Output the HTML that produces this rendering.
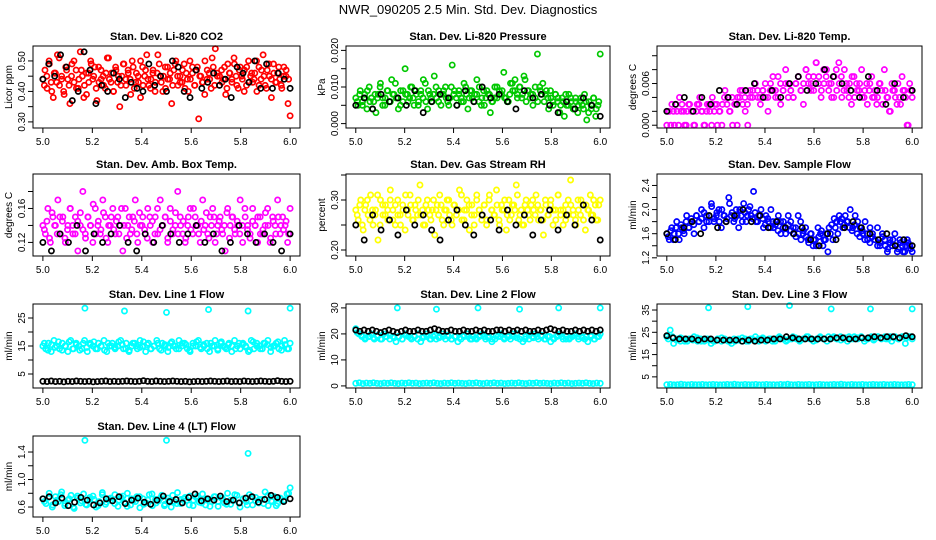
<!DOCTYPE html>
<html><head><meta charset="utf-8"><style>
body{margin:0;background:#fff}
svg{display:block;font-family:"Liberation Sans",sans-serif}
</style></head><body>
<svg id="c" width="936" height="540" viewBox="0 0 936 540">
<text x="468" y="14" text-anchor="middle" font-size="13">NWR_090205  2.5 Min. Std. Dev. Diagnostics</text>
</svg>
<script>
const xTicks=[5.0,5.2,5.4,5.6,5.8,6.0];
const xTickLabels=["5.0","5.2","5.4","5.6","5.8","6.0"];
// Panel 1 CO2
const co2Red=[.44,.47,.41,.50,.43,.38,.46,.52,.42,.45,.40,.48,.44,.36,.49,.43,.47,.41,.53,.45,.42,.39,.46,.50,.44,.48,.37,.43,.47,.45,.41,.51,.44,.46,.40,.48,.43,.35,.45,.49,.42,.47,.44,.50,.41,.46,.43,.38,.48,.45,.52,.42,.44,.47,.40,.46,.49,.43,.45,.41,.48,.44,.36,.47,.50,.42,.45,.43,.49,.46,.40,.44,.48,.42,.47,.31,.45,.43,.50,.44,.46,.41,.48,.54,.45,.42,.47,.44,.39,.49,.46,.43,.51,.45,.41,.48,.44,.47,.42,.50,.45,.43,.46,.40,.48,.44,.52,.42,.47,.45,.38,.49,.43,.46,.44,.41,.48,.45,.36,.32];
const co2Red2=[.42,.45,.49,.40,.46,.43,.51,.44,.39,.47,.42,.45,.50,.41,.44,.47,.38,.46,.43,.49,.45,.41,.48,.44,.42,.46,.51,.43,.40,.47,.45,.42,.49,.44,.46,.39,.48,.43,.45,.50,.42,.47,.44,.41,.46,.43,.52,.45,.40,.48,.44,.46,.42,.49,.45,.43,.47,.41,.44,.50,.46,.42,.48,.45,.43,.39,.47,.44,.51,.42,.46,.45,.43,.48,.41,.46,.44,.49,.42,.47,.45,.40,.48,.43,.46,.44,.50,.42,.47,.45,.41,.49,.44,.46,.43,.48,.42,.45,.47,.44];
const co2Black=[.44,.49,.45,.52,.48,.37,.40,.53,.47,.36,.42,.40,.46,.44,.38,.43,.41,.40,.49,.42,.45,.40,.50,.48,.40,.38,.47,.41,.43,.46,.42,.44,.38,.48,.46,.43,.50,.41,.49,.41,.46,.44,.41];
// Panel 2 Pressure (x1e-3 kPa)
const presGreen=[7,5,9,6,8,4,10,7,6,3,8,11,7,5,9,6,12,8,7,4,9,6,15,8,7,10,5,8,6,9,7,11,4,8,6,13,7,9,5,8,10,6,7,16,9,5,8,7,6,10,4,9,7,8,12,6,5,9,7,8,3,6,10,7,9,8,14,7,6,11,9,12,8,10,7,13,6,9,8,5,7,19,10,8,6,9,4,7,5,8,6,3,7,2,5,8,6,4,7,3,6,5,8,1,6,4,7,2,5,19];
const presGreen2=[6,8,5,7,9,6,4,8,7,10,5,7,9,6,8,11,7,5,9,8,6,10,7,9,5,8,12,6,9,7,8,10,6,8,9,7,5,10,8,7,9,6,11,8,7,9,6,8,10,7,5,9,8,6,7,10,8,9,7,6,8,11,9,7,10,8,12,9,7,8,10,6,9,11,8,7,9,6,8,7,5,6,8,5,7,4,6,5,7,4,6,3,5,7,4,6];
const presBlack=[5,7,4,8,6,7,5,9,3,6,8,7,5,9,6,10,7,8,6,4,9,7,8,5,3,6,4,7,5,2];
// Panel 3 Temp (x1e-3)
const tempMag=[0,2,3,0,2,4,3,0,2,3,2,0,3,4,2,0,3,2,4,3,0,2,3,5,4,2,0,3,4,5,3,2,0,4,5,6,4,3,5,4,2,6,5,4,7,3,5,6,4,5,4,6,7,5,3,8,6,5,7,9,6,4,8,7,5,6,4,8,9,7,5,6,4,3,7,6,5,8,4,6,5,7,4,3,6,5,8,4,2,6,5,3,4,7,5,0,6,4];
const tempMag2=[2,0,2,3,0,2,2,0,3,2,0,2,3,2,0,2,3,0,2,3,2,0,4,3,2,4,3,0,4,5,4,3,5,4,6,5,4,5,6,4,5,7,5,4,6,5,8,6,5,4,6,7,5,6,8,7,6,5,9,7,5,6,8,6,4,7,5,6,4,8,5,6,7,4,5,6,4,5,3,6,4,5,4,6,3,5,4,2,5,4,6,3,5,4,0,5];
const tempBlack=[2,3,4,2,4,3,5,4,3,5,6,4,5,4,6,7,5,6,8,7,6,5,4,7,5,3,6,4,5];
// Panel 4 Amb box temp
const ambMag=[.14,.13,.16,.12,.15,.14,.17,.13,.15,.12,.14,.16,.13,.15,.11,.14,.18,.13,.15,.14,.12,.16,.14,.13,.17,.15,.12,.14,.16,.13,.15,.14,.11,.16,.14,.13,.15,.17,.12,.14,.15,.13,.16,.14,.12,.15,.13,.17,.14,.15,.12,.16,.13,.14,.18,.15,.13,.12,.14,.16,.13,.15,.14,.12,.17,.14,.13,.15,.16,.12,.14,.15,.13,.11,.16,.14,.15,.13,.14,.17,.12,.15,.14,.13,.16,.14,.12,.15,.13,.14,.16,.12,.15,.14,.17,.13,.15,.14,.12,.16];
const ambMag2=[.135,.145,.125,.155,.14,.13,.15,.145,.125,.135,.16,.14,.13,.145,.155,.135,.125,.15,.14,.165,.13,.145,.135,.155,.125,.14,.15,.135,.145,.13,.16,.14,.125,.15,.135,.145,.13,.155,.14,.135,.125,.15,.145,.13,.16,.135,.14,.15,.125,.145,.135,.155,.13,.14,.145,.125,.15,.135,.16,.14,.13,.145,.135,.155,.125,.14,.15,.13,.145,.135,.14,.155,.125,.15,.135,.145,.13,.14,.16,.135,.125,.145,.14,.15,.13,.135,.155,.14,.125,.145,.13,.15,.14,.135,.145,.13];
const ambBlack=[.12,.11,.13,.12,.14,.11,.13,.12,.13,.14,.12,.11,.13,.12,.14,.13,.12,.13,.14,.12,.13,.11,.12,.14,.13,.12,.13,.12,.11,.13];
// Panel 5 RH
const rhYellow=[.28,.26,.30,.24,.29,.27,.31,.25,.28,.22,.30,.27,.29,.26,.32,.28,.25,.30,.27,.29,.24,.28,.31,.26,.29,.27,.33,.28,.25,.30,.27,.28,.23,.29,.31,.26,.28,.30,.27,.25,.29,.28,.32,.26,.28,.30,.24,.29,.27,.31,.28,.26,.29,.25,.30,.28,.27,.32,.26,.29,.28,.24,.30,.27,.29,.33,.26,.28,.25,.30,.27,.29,.28,.31,.26,.28,.23,.29,.27,.30,.28,.26,.31,.28,.25,.29,.27,.34,.28,.26,.30,.27,.29,.24,.28,.31,.27,.29,.26,.30];
const rhYellow2=[.27,.29,.25,.28,.30,.26,.28,.27,.31,.25,.29,.27,.28,.30,.26,.29,.27,.25,.28,.31,.27,.29,.26,.28,.30,.27,.25,.29,.28,.26,.30,.28,.27,.29,.25,.28,.30,.26,.29,.27,.28,.31,.26,.28,.29,.27,.25,.30,.28,.27,.29,.26,.31,.28,.27,.29,.25,.28,.30,.27,.26,.29,.28,.31,.27,.25,.29,.28,.26,.30,.27,.29,.28,.26,.30,.27,.29,.25,.28,.31,.27,.28,.26,.30,.29,.27,.25,.28,.30,.26,.29,.28,.27,.30,.26,.29];
const rhBlack=[.25,.22,.27,.24,.26,.23,.28,.25,.27,.24,.22,.26,.28,.25,.23,.27,.26,.24,.28,.25,.27,.23,.26,.28,.24,.27,.25,.29,.26,.22];
// Panel 6 Sample flow
const flowBlue=[1.6,1.5,1.7,1.6,1.8,1.5,1.7,1.6,1.9,1.7,1.8,1.6,1.9,1.8,2.0,1.7,1.9,1.8,2.1,1.8,1.9,2.0,1.7,1.9,1.8,2.2,1.9,1.8,2.0,1.7,1.9,2.1,1.8,2.0,1.9,2.3,1.8,1.9,2.0,1.7,1.9,1.8,2.0,1.7,1.8,1.9,1.6,1.8,1.7,1.9,1.8,1.6,1.7,1.9,1.8,1.6,1.7,1.5,1.6,1.4,1.5,1.7,1.6,1.4,1.5,1.3,1.6,1.5,1.7,1.6,1.8,1.7,1.9,1.8,2.0,1.7,1.9,1.8,1.7,1.6,1.8,1.5,1.7,1.6,1.5,1.7,1.4,1.6,1.5,1.3,1.5,1.4,1.6,1.3,1.5,1.4,1.3,1.5,1.4,1.3];
const flowBlue2=[1.55,1.65,1.5,1.7,1.6,1.75,1.65,1.8,1.7,1.85,1.75,1.9,1.8,1.85,1.95,1.8,1.9,2.05,1.85,1.95,1.8,2.0,1.9,1.85,2.1,1.95,1.85,1.9,2.0,1.8,1.95,1.9,2.05,1.85,1.95,1.8,1.9,1.85,1.75,1.85,1.7,1.8,1.75,1.65,1.8,1.7,1.6,1.75,1.65,1.7,1.55,1.6,1.5,1.65,1.55,1.45,1.6,1.5,1.4,1.55,1.65,1.5,1.6,1.7,1.75,1.85,1.8,1.9,1.85,1.75,1.8,1.7,1.65,1.75,1.6,1.55,1.65,1.5,1.6,1.45,1.55,1.5,1.4,1.45,1.55,1.4,1.35,1.45,1.5,1.4,1.35,1.45,1.3,1.4,1.45,1.35];
const flowBlack=[1.6,1.5,1.7,1.8,1.6,1.9,1.7,1.8,1.9,2.0,1.8,1.9,1.7,1.8,1.7,1.6,1.7,1.5,1.4,1.6,1.5,1.7,1.8,1.7,1.6,1.5,1.6,1.4,1.5,1.4];
// Line flows
const l1Cyan=[15,14,16,13,17,15,14,16,15,13,17,14,16,15,14,17,13,16,15,14,16,15,17,13,15,16,14,15,17,14,16,13,15,16,14,17,15,13,16,14,15,17,14,16,15,13,16,15,14,17,15,16,14,13,16,15,17,14,15,16,13,15,17,14,16,15,14,16,13,17,15,14,16,15,13,17,14,16,15,14,16,17,13,15,16,14,15,17,14,16];
const l1Cyan2=[16,13.5,15.5,14.5,16.5,13.5,15,16.5,14,15.5,13.5,16,14.5,15.5,16.5,14,15,13.5,16,15,14.5,16.5,15.5,14,13.5,16,15,14.5,16.5,15.5,14,15,16,13.5,15.5,14.5,16.5,15,14,16,15.5,13.5,15,16.5,14.5,15.5,14,16,15,13.5,16.5,14.5,15.5,15,14,16,15.5,14.5,13.5,16.5,15,14,16,15.5,14.5,15,16.5,13.5,15.5,14];
const l1Black=[2.4,2.3,2.5,2.3,2.4,2.2,2.4,2.3,2.5,2.4,2.3,2.4,2.2,2.3,2.4,2.5,2.3,2.4,2.3,2.4,2.5,2.4,2.3,2.4,2.6,2.4,2.3,2.5,2.4,2.3,2.4,2.5,2.4,2.3,2.4,2.2,2.3,2.4,2.3,2.4,2.5,2.4,2.3,2.4,2.5,2.3,2.4,2.3,2.5,2.4,2.3,2.4,2.5,2.4,2.3,2.4,2.6,2.4,2.3,2.4];
const outX=[5.17,5.33,5.5,5.67,5.83,6.0];
const l1Out=[28.5,27.5,27,28,27.5,28.5];
const l2Cyan=[22,20,19,18,19,20,18,19,18,20,19,18,19,17,19,18,20,19,18,19,18,17,19,20,18,19,18,19,20,18,19,18,19,17,18,19,20,18,19,18,19,20,18,19,17,18,19,20,18,19,18,19,20,18,17,19,18,19,20,18,19,18,19,17,18,19,20,18,19,18,19,20,18,19,18,17,19,18,19,20];
const l2Cyan2=[20.5,19.5,18.5,19,18.5,19.5,18,19,19.5,18.5,19,18,19.5,18.5,19,20,18.5,19,18,19.5,18.5,19,19.5,18,19,18.5,19.5,19,18,18.5,19.5,19,18.5,18,19.5,19,18.5,19,20,18.5,19,18,19.5,18.5,19,19.5,18,19,18.5,19.5,19,18,18.5,19.5,19,18.5,19,19.5,18,19];
const l2Low=[1,1.2,0.9,1.1,1,1.2,1,0.9,1.1,1,1.2,1,0.9,1.1,1,1.2,1,1.1,0.9,1,1.1,1,1.2,1,0.9,1.1,1,1.2,1,1.1,1,0.9,1.1,1,1.2,1,0.9,1.1,1,1.2,1,1.1,0.9,1,1.1,1,1.2,1,0.9,1.1,1,1.2,1,1.1,1,0.9,1.1,1,1.2,1,1.1,0.9,1,1.1,1,1.2,1,0.9,1.1,1];
const l2Black=[21.5,21,21.5,21,21.5,21,20.5,21,21.5,21,20.5,21,21.5,21,21,21.5,21,21,21.5,22,21.5,21,21,21.5,21,21,21.5,21,21,21.5,21,21.5,21,21,21.5,21.5,21,21.5,21,21.5,21,21.5,21,21,21.5,21,21.5,22,21.5,21,21.5,21,21,21.5,21,21.5,21,21.5,21,21.5];
const l2Out=[30,29.5,30,29.5,30,30];
const l3Cyan=[23,26,20,22,21,22,21,22,23,21,22,21,22,20,21,22,21,22,21,20,21,22,21,22,21,22,23,21,22,21,22,21,22,23,22,21,22,23,22,21,22,23,22,21,22,23,22,21,22,23,22,23,22,21,22,23,22,23,21,22,23,22,23,22,23,22,21,23,22,23,20,23,22];
const l3Cyan2=[22,23,21.5,22.5,21,22,21.5,22.5,21,22,21.5,21,22,22.5,21.5,21,22,21.5,22.5,21,22,21.5,22,22.5,21.5,22,21,22.5,22,21.5,22,22.5,21.5,22,23,22,21.5,22.5,22,23,22.5,22,21.5,22.5,23,22,22.5,23,22,22.5,21.5,23,22.5,22,23,22.5,22,23,22.5,23];
const l3Low=[1.5,1.6,1.4,1.5,1.7,1.5,1.4,1.6,1.5,1.5,1.6,1.4,1.5,1.6,1.5,1.4,1.5,1.6,1.5,1.7,1.5,1.4,1.6,1.5,1.5,1.6,1.4,1.5,1.6,1.5,1.5,1.4,1.6,1.5,1.7,1.5,1.4,1.6,1.5,1.5,1.6,1.4,1.5,1.6,1.5,1.4,1.5,1.6,1.5,1.7,1.5,1.4,1.6,1.5,1.5,1.6,1.4,1.5,1.6,1.5,1.5,1.6,1.4,1.5,1.6,1.5,1.4,1.5,1.6,1.5];
const l3Black=[23.5,22.5,22,22,22,21.5,22,22,21.5,21.5,21.5,21.5,21,21.5,21,21.5,21.5,22,22,23,22.5,22,22,22,22,22,22,22.5,22.5,22,22,22.5,22.5,23,22.5,23,23,22.5,23.5,23];
const l3Out=[36,36.5,37,35.5,35.5,35.5];
const l4Cyan=[.72,.65,.80,.60,.75,.68,.82,.62,.70,.77,.58,.73,.66,.79,.63,.71,.76,.60,.68,.81,.64,.72,.69,.78,.61,.74,.67,.80,.63,.70,.75,.59,.72,.66,.78,.62,.71,.69,.77,.64,.73,.60,.68,.81,.65,.72,.70,.76,.62,.74,.67,.79,.63,.71,.68,.75,.61,.73,.66,.80,.64,.70,.77,.60,.72,.68,.78,.63,.74,.66,.71,.82,.62,.69,.75,.65,.72,.70,.79,.88];
const l4Cyan2=[.68,.74,.63,.70,.78,.65,.72,.60,.76,.69,.64,.74,.71,.62,.78,.67,.73,.65,.70,.76,.61,.72,.68,.75,.64,.70,.79,.66,.73,.62,.69,.77,.65,.71,.74,.63,.70,.76,.66,.72,.61,.75,.68,.73,.64,.70,.78,.66,.72,.63,.75,.69,.71,.65,.77,.68,.62,.73,.70,.80];
const l4Black=[.72,.75,.66,.73,.62,.67,.74,.70,.63,.66,.72,.69,.75,.65,.70,.73,.67,.64,.70,.76,.68,.71,.66,.74,.79,.69,.72,.70,.76,.68,.70,.66,.73,.75,.67,.71,.77,.74,.68,.72];
const l4OutX=[5.17,5.5,5.83];
const l4Out=[1.57,1.57,1.38];

const NS="http://www.w3.org/2000/svg";
const svg=document.getElementById('c');
function mk(tag,attrs,parent){const e=document.createElementNS(NS,tag);for(const k in attrs)e.setAttribute(k,attrs[k]);(parent||svg).appendChild(e);return e;}
const colL=[33,346,657],colW=[267,264,265];
const rowT=[46,174,304,436],rowH=[82,82,84,81];

function panel(o){
  const L=colL[o.c],W=colW[o.c],T=rowT[o.r],H=rowH[o.r];
  const g=mk('g',{});
  
  
  const xs=v=>L+W*0.04/1.08+(v-5)*W/1.08;
  const ys=v=>T+H-(v-o.y0)/(o.y1-o.y0)*H;
  const t=mk('text',{x:L+W/2,y:T-6,'text-anchor':'middle','font-size':11,'font-weight':'bold'},g);
  t.textContent=o.title;
  
  
  const yt=mk('text',{x:0,y:0,'text-anchor':'middle','font-size':10,transform:`translate(${L-21},${T+H/2}) rotate(-90)`},g);
  yt.textContent=o.ylab;
  
  
  o.series.forEach(s=>{
    const n=s.vals.length;
    const off=s.off||0;
    s.vals.forEach((v,i)=>{
      const xv=s.xs?s.xs[i]:5+off+(i/(n-1))*(1-2*off);
      const c=mk('circle',{cx:xs(xv),cy:ys(v),r:2.6,fill:'none',stroke:s.col,'stroke-width':1.7},g);
      
      
    });
  });
  const box=mk('rect',{x:L,y:T,width:W,height:H,fill:'none',stroke:'#000','stroke-width':1},g);
  
  
  xTicks.forEach((v,i)=>{
    mk('line',{x1:xs(v),x2:xs(v),y1:T+H,y2:T+H+5,stroke:'#000'},g);
    const tl=mk('text',{x:xs(v),y:T+H+17,'text-anchor':'middle','font-size':10},g);
    tl.textContent=xTickLabels[i];
    
    
  });
  o.yt.forEach((v,i)=>{
    mk('line',{x1:L-5,x2:L,y1:ys(v),y2:ys(v),stroke:'#000'},g);
    if(o.ytl[i]){
      const tl=mk('text',{x:0,y:0,'text-anchor':'middle','font-size':10,transform:`translate(${L-8},${ys(v)}) rotate(-90)`},g);
      tl.textContent=o.ytl[i];
      
      
    }
  });
}
panel({name:'co2',c:0,r:0,title:'Stan. Dev. Li-820 CO2',ylab:'Licor ppm',y0:.28,y1:.549,yt:[.30,.35,.40,.45,.50],ytl:['0.30','','0.40','','0.50'],series:[{vals:co2Red,col:'#ff0000'},{vals:co2Red2,col:'#ff0000',off:.006},{vals:co2Black,col:'#000'}]});
panel({name:'pressure',c:1,r:0,title:'Stan. Dev. Li-820 Pressure',ylab:'kPa',y0:-1.2,y1:21.2,yt:[0,5,10,15,20],ytl:['0.000','','0.010','','0.020'],series:[{vals:presGreen,col:'#00c800'},{vals:presGreen2,col:'#00c800',off:.006},{vals:presBlack,col:'#000'}]});
panel({name:'temp',c:2,r:0,title:'Stan. Dev. Li-820 Temp.',ylab:'degrees C',y0:-0.4,y1:11.4,yt:[0,2,4,6,8,10],ytl:['0.000','','','0.006','',''],series:[{vals:tempMag,col:'#ff00ff'},{vals:tempMag2,col:'#ff00ff',off:.006},{vals:tempBlack,col:'#000'}]});
panel({name:'amb-box-temp',c:0,r:1,title:'Stan. Dev. Amb. Box Temp.',ylab:'degrees C',y0:.104,y1:.2006,yt:[.12,.14,.16,.18],ytl:['0.12','','0.16',''],series:[{vals:ambMag,col:'#ff00ff'},{vals:ambMag2,col:'#ff00ff',off:.006},{vals:ambBlack,col:'#000'}]});
panel({name:'gas-rh',c:1,r:1,title:'Stan. Dev. Gas Stream RH',ylab:'percent',y0:.188,y1:.352,yt:[.20,.25,.30,.35],ytl:['0.20','','0.30',''],series:[{vals:rhYellow,col:'#ffff00'},{vals:rhYellow2,col:'#ffff00',off:.006},{vals:rhBlack,col:'#000'}]});
panel({name:'sample-flow',c:2,r:1,title:'Stan. Dev. Sample Flow',ylab:'ml/min',y0:1.23,y1:2.59,yt:[1.2,1.4,1.6,1.8,2.0,2.2,2.4],ytl:['1.2','','1.6','','2.0','','2.4'],series:[{vals:flowBlue,col:'#0000ff'},{vals:flowBlue2,col:'#0000ff',off:.006},{vals:flowBlack,col:'#000'}]});
panel({name:'line1-flow',c:0,r:2,title:'Stan. Dev. Line 1 Flow',ylab:'ml/min',y0:0,y1:30,yt:[5,10,15,20,25],ytl:['5','','15','','25'],series:[{vals:l1Cyan,col:'#00ffff'},{vals:l1Cyan2,col:'#00ffff',off:.006},{vals:l1Out,xs:outX,col:'#00ffff'},{vals:l1Black,col:'#000'}]});
panel({name:'line2-flow',c:1,r:2,title:'Stan. Dev. Line 2 Flow',ylab:'ml/min',y0:-0.8,y1:31.5,yt:[0,10,20,30],ytl:['0','10','20','30'],series:[{vals:l2Cyan,col:'#00ffff'},{vals:l2Cyan2,col:'#00ffff',off:.006},{vals:l2Low,col:'#00ffff'},{vals:l2Out,xs:outX,col:'#00ffff'},{vals:l2Black,col:'#000'}]});
panel({name:'line3-flow',c:2,r:2,title:'Stan. Dev. Line 3 Flow',ylab:'ml/min',y0:0,y1:37.7,yt:[5,10,15,20,25,30,35],ytl:['5','','15','','25','','35'],series:[{vals:l3Cyan,col:'#00ffff'},{vals:l3Cyan2,col:'#00ffff',off:.006},{vals:l3Low,col:'#00ffff'},{vals:l3Out,xs:outX,col:'#00ffff'},{vals:l3Black,col:'#000'}]});
panel({name:'line4-flow',c:0,r:3,title:'Stan. Dev. Line 4 (LT) Flow',ylab:'ml/min',y0:.455,y1:1.633,yt:[.6,.8,1.0,1.2,1.4],ytl:['0.6','','1.0','','1.4'],series:[{vals:l4Cyan,col:'#00ffff'},{vals:l4Cyan2,col:'#00ffff',off:.006},{vals:l4Out,xs:l4OutX,col:'#00ffff'},{vals:l4Black,col:'#000'}]});
</script>
</body></html>
